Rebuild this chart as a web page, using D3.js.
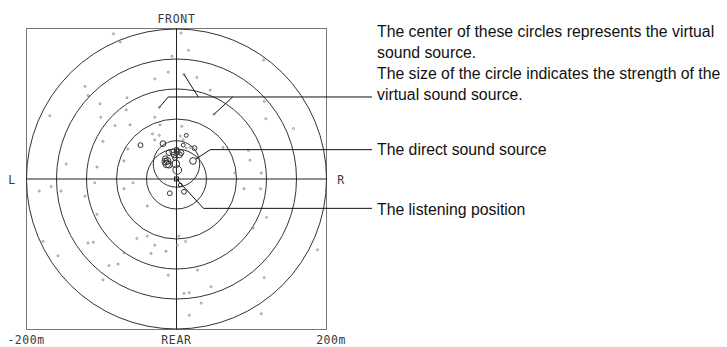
<!DOCTYPE html>
<html>
<head>
<meta charset="utf-8">
<script src="https://cdn.jsdelivr.net/npm/d3@7"></script>
<style>
  html, body { margin: 0; padding: 0; background: #fff; }
  svg { display: block; }
</style>
</head>
<body>
<svg id="chart" width="727" height="347"></svg>
<script>
// Field extent (metres) and tick labels
const extent = [-200, 200];
const tickValues = [-200, 200];
const directionLabels = ["FRONT", "REAR", "L", "R"];

// Distance rings around the listening position (metres)
const ringRadii = [40, 80, 120, 160, 200];
// Ring around the direct-sound zone
const nearRingCenter = [0, 20];
const nearRingRadius = 31;

// Virtual sound sources: position (m) and strength (1 = weakest)
const sourceX = [
  -84, -75, -6, -11, -29, -122, -118, -66, -102, -23, -67, -169, -29, -101, -82, -62, -22, -32, -23, -29,
  -98, -65, -70, -147, -106,
  6, 16, 116, 10, 27, 45, 117, 50, 119, 156, 7, 5, 9, 18, 62, 28, 98, 113, 78, 96, 13,
  -167, -154, -109, -58, -70, -122, -183, -106, -39, -53, -39, -178, -118, -111, -29, -14, -34, -70, -158,
  -78, -90, -11, -98,
  90, 112, 120, 102, 3, 12, 1, 188, 28, 117, 46, 10, 17, 33, 17, 113,
  -18, -48, 0, 24, 13, -10, -5, 1, 6, 4, -3, -15, -12, -15, -13, -10, -1, 1, -2, -9, 10, 5, 9
];
const sourceY = [
  193, 182, 163, 142, 133, 123, 111, 108, 100, 95, 92, 84, 82, 82, 71, 72, 72, 60, 58, 52,
  50, 40, 24, 20, 16,
  194, 171, 158, 139, 135, 118, 103, 86, 80, 67, 70, 57, 52, 42, 42, 29, 25, 8, 8, 38, 41,
  -10, -16, -5, -5, -13, -23, -16, -47, -36, -79, -76, -83, -85, -84, -88, -96, -99, -98, -102,
  -113, -115, -128, -134,
  -13, -13, -51, -65, -76, -83, -88, -94, -121, -131, -143, -152, -151, -165, -181, -179,
  47, 45, 39, 41, 58, 35, 36, 36, 35, 32, 32, 27, 24, 23, 20, 19, 20, 12, 28, -19, -17, -8, 45
];
const sourceLevel = [
  1, 1, 1, 1, 1, 1, 1, 1, 1, 1, 1, 1, 1, 1, 1, 1, 1, 1, 1, 1,
  1, 1, 1, 1, 1,
  1, 1, 1, 1, 1, 1, 1, 1, 1, 1, 1, 1, 1, 1, 1, 1, 1, 1, 1, 1, 1,
  1, 1, 1, 1, 1, 1, 1, 1, 1, 1, 1, 1, 1, 1, 1, 1, 1, 1, 1,
  1, 1, 1, 1,
  1, 1, 1, 1, 1, 1, 1, 1, 1, 1, 1, 1, 1, 1, 1, 1,
  3, 2.5, 2.5, 2.5, 2, 3, 3, 3, 3, 3, 3, 3, 3.5, 3.5, 4, 3.5, 4, 4.5, 2.5, 2.5, 2.5, 2, 2
];

// Direct sound source (m) and its strength
const directSource = [22, 24];
const directLevel = 3.5;

// Callout texts
const noteVirtual = [
  "The center of these circles represents the virtual",
  "sound source.",
  "The size of the circle indicates the strength of the",
  "virtual sound source."
];
const noteDirect = "The direct sound source";
const noteListener = "The listening position";

// Callout anchor points (m)
const virtualTargets = [[-23, 95], [10, 139], [50, 86]];
const virtualBranchX = [-11, 29, 75];
const virtualElbowY = 109;
const directElbow = [45, 39];
const listenerElbow = [36, -39];

const svg = d3.select("#chart");

const x = d3.scaleLinear().domain(extent).range([26.5, 326.5]);
const y = d3.scaleLinear().domain(extent).range([329.5, 28.5]);
const rDist = d3.scaleLinear().domain([0, 200]).range([0, 150]);
const rLevel = d3.scaleLinear().domain([1, 4.5]).range([1, 4.3]);

const cx = x(0), cy = y(0);
const ink = "#222";
const labelFont = "'DejaVu Sans Mono', monospace";
const labelColor = "#3a3a3a";

// Frame
svg.append("rect")
  .attr("x", x(extent[0])).attr("y", y(extent[1]))
  .attr("width", x(extent[1]) - x(extent[0]))
  .attr("height", y(extent[0]) - y(extent[1]))
  .attr("fill", "none").attr("stroke", "#777").attr("stroke-width", 1);

// Distance rings
svg.append("g").selectAll("circle").data(ringRadii).join("circle")
  .attr("cx", cx).attr("cy", cy).attr("r", d => rDist(d))
  .attr("fill", "none").attr("stroke", "#333").attr("stroke-width", 1);

svg.append("circle")
  .attr("cx", x(nearRingCenter[0])).attr("cy", y(nearRingCenter[1]))
  .attr("r", rDist(nearRingRadius))
  .attr("fill", "none").attr("stroke", "#333").attr("stroke-width", 1);

// Cross-hair axes
svg.append("line")
  .attr("x1", cx).attr("x2", cx).attr("y1", y(extent[1])).attr("y2", y(extent[0]))
  .attr("stroke", ink).attr("stroke-width", 1);
svg.append("line")
  .attr("x1", x(extent[0])).attr("x2", x(extent[1])).attr("y1", cy).attr("y2", cy)
  .attr("stroke", ink).attr("stroke-width", 1);

// Sound sources
const sources = sourceX.map((d, i) => ({ x: sourceX[i], y: sourceY[i], level: sourceLevel[i] }));
svg.append("g").selectAll("circle").data(sources).join("circle")
  .attr("cx", d => x(d.x)).attr("cy", d => y(d.y))
  .attr("r", d => rLevel(d.level))
  .attr("fill", "none")
  .attr("stroke", d => d.level <= 1 ? "#8a8a8a" : "#333")
  .attr("stroke-width", d => d.level <= 1 ? 0.9 : 1);

svg.append("circle")
  .attr("cx", x(directSource[0])).attr("cy", y(directSource[1]))
  .attr("r", rLevel(directLevel))
  .attr("fill", "none").attr("stroke", "#333").attr("stroke-width", 1);

// Listening position marker
svg.append("rect")
  .attr("x", cx - 2).attr("y", cy - 2).attr("width", 4).attr("height", 4)
  .attr("fill", "none").attr("stroke", ink).attr("stroke-width", 1);

// Direction labels
const dirPos = [
  [cx, 23],
  [cx, 344],
  [12, cy + 5],
  [341, cy + 5]
];
svg.append("g").selectAll("text").data(directionLabels).join("text")
  .attr("x", (d, i) => dirPos[i][0]).attr("y", (d, i) => dirPos[i][1])
  .attr("text-anchor", "middle")
  .attr("font-family", labelFont).attr("font-size", 11.5).attr("letter-spacing", 0.7)
  .attr("fill", labelColor).text(d => d);

// Distance tick labels along the bottom
const axis = d3.axisBottom(x).tickValues(tickValues).tickSize(0).tickPadding(0).tickFormat(d => `${d}m`);
const axisG = svg.append("g").attr("transform", "translate(0,344)").call(axis);
axisG.select(".domain").remove();
axisG.selectAll("text")
  .attr("y", 0).attr("dy", 0)
  .attr("font-family", labelFont).attr("font-size", 11.5).attr("letter-spacing", 0.5)
  .attr("fill", labelColor)
  .attr("dx", (d, i) => i === 0 ? -1 : 4);

// Callouts
const textX = 377, lineEndX = 372;
const leader = svg.append("g").attr("fill", "none").attr("stroke", "#111").attr("stroke-width", 1);

// virtual sources
const vy = y(virtualElbowY);
leader.append("line").attr("x1", x(virtualBranchX[0])).attr("y1", vy).attr("x2", lineEndX).attr("y2", vy);
virtualTargets.forEach((t, i) => {
  leader.append("line")
    .attr("x1", x(virtualBranchX[i])).attr("y1", vy)
    .attr("x2", x(t[0])).attr("y2", y(t[1]));
});

// direct sound
{
  const sx = x(directSource[0]), sy = y(directSource[1]);
  const ex = x(directElbow[0]), ey = y(directElbow[1]);
  const a = Math.atan2(ey - sy, ex - sx), rr = rLevel(directLevel);
  leader.append("polyline").attr("points",
    [[sx + rr * Math.cos(a), sy + rr * Math.sin(a)], [ex, ey], [lineEndX, ey]].map(p => p.join(",")).join(" "));
}

// listening position
{
  const ex = x(listenerElbow[0]), ey = y(listenerElbow[1]);
  leader.append("polyline").attr("points",
    [[cx, cy], [ex, ey], [lineEndX, ey]].map(p => p.join(",")).join(" "));
}

const noteFont = "'Liberation Sans', Arial, sans-serif";
const noteSize = 15.8;
svg.append("g").selectAll("text").data(noteVirtual).join("text")
  .attr("x", textX).attr("y", (d, i) => 37 + i * 21)
  .attr("font-family", noteFont).attr("font-size", noteSize).attr("fill", "#111")
  .text(d => d);
svg.append("text").attr("x", textX).attr("y", 154.5)
  .attr("font-family", noteFont).attr("font-size", noteSize).attr("fill", "#111").text(noteDirect);
svg.append("text").attr("x", textX).attr("y", 214.5)
  .attr("font-family", noteFont).attr("font-size", noteSize).attr("fill", "#111").text(noteListener);
</script>
</body>
</html>
